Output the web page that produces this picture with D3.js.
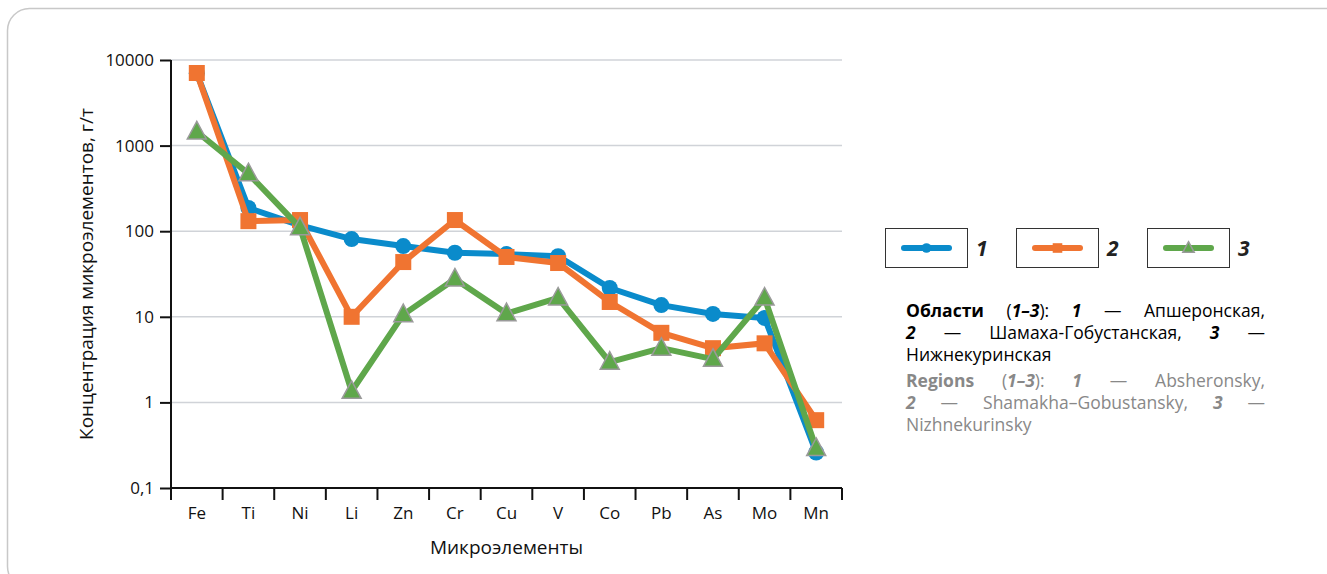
<!DOCTYPE html>
<html>
<head>
<meta charset="utf-8">
<script src="https://cdn.jsdelivr.net/npm/d3@7"></script>
<style>
  body { margin: 0; background: #fff; font-family: "Open Sans", sans-serif; }
  #wrap { position: relative; width: 1327px; height: 574px; overflow: hidden; }
  #note { position: absolute; left: 906px; top: 299px; width: 359px; font-size: 17.5px; line-height: 22px; }
  #note .ln { text-align: justify; text-align-last: justify; white-space: nowrap; }
  #note .ln.last { text-align-last: left; }
  #note .en { color: #888; }
</style>
</head>
<body>
<div id="wrap">
  <div id="chart"></div>
  <div id="note">
    <div class="ln"><b>Области</b> (<b><i>1–3</i></b>): <b><i>1</i></b> — Апшеронская,</div>
    <div class="ln"><b><i>2</i></b> — Шамаха-Гобустанская, <b><i>3</i></b> —</div>
    <div class="ln last">Нижнекуринская</div>
    <div class="en" style="margin-top:4px">
      <div class="ln"><b>Regions</b> (<b><i>1–3</i></b>): <b><i>1</i></b> — Absheronsky,</div>
      <div class="ln"><b><i>2</i></b> — Shamakha–Gobustansky, <b><i>3</i></b> —</div>
      <div class="ln last">Nizhnekurinsky</div>
    </div>
  </div>
</div>
<script>
// data
var elements = ["Fe", "Ti", "Ni", "Li", "Zn", "Cr", "Cu", "V", "Co", "Pb", "As", "Mo", "Mn"];
var series1 = [7000, 187, 117, 81, 67, 56, 54, 51, 21.7, 13.7, 10.8, 9.7, 0.26];
var series2 = [7050, 131, 135, 10, 43.6, 135, 50, 42.5, 14.9, 6.5, 4.3, 4.9, 0.62];
var series3 = [1450, 470, 110, 1.35, 10.6, 27.7, 10.9, 16.6, 2.96, 4.3, 3.2, 16.6, 0.29];
var seriesNames = ["1", "2", "3"];
var yTicks = [0.1, 1, 10, 100, 1000, 10000];

var svgWidth = 1327, svgHeight = 574;
var margin = { top: 60, left: 171, right: 485, bottom: 86 };

var svg = d3.select("#chart").append("svg")
    .attr("width", svgWidth)
    .attr("height", svgHeight)
    .style("font-family", "'Open Sans', sans-serif");

// frame
svg.append("rect")
    .attr("x", 7.5).attr("y", 8.5)
    .attr("width", 1340).attr("height", 580)
    .attr("rx", 22)
    .attr("fill", "none")
    .attr("stroke", "#c8c8c8")
    .attr("stroke-width", 1.5);

var xScale = d3.scaleBand()
    .domain(elements)
    .range([margin.left, svgWidth - margin.right]);

var yScale = d3.scaleLog()
    .domain([0.1, 10000])
    .range([svgHeight - margin.bottom, margin.top]);

var x0 = margin.left, x1 = svgWidth - margin.right, yb = svgHeight - margin.bottom;

// gridlines
svg.append("g").selectAll("line")
    .data(yTicks.slice(1))
    .enter().append("line")
    .attr("x1", x0).attr("x2", x1)
    .attr("y1", d => yScale(d)).attr("y2", d => yScale(d))
    .attr("stroke", "#d0d3d8")
    .attr("stroke-width", 1.5);

// y axis
var yAxis = d3.axisLeft(yScale)
    .tickValues(yTicks)
    .tickFormat(d => String(d).replace(".", ","))
    .tickSize(11)
    .tickPadding(6);

var yg = svg.append("g")
    .attr("transform", "translate(" + x0 + ",0)")
    .call(yAxis);
yg.select(".domain").remove();
yg.selectAll(".tick line").attr("stroke", "#111").attr("stroke-width", 2);
yg.selectAll(".tick text").attr("font-size", 17).attr("fill", "#111").attr("font-family", "'Open Sans', sans-serif");

svg.append("line")
    .attr("x1", x0).attr("x2", x0)
    .attr("y1", margin.top).attr("y2", yb + 6)
    .attr("stroke", "#111").attr("stroke-width", 2);

// x axis
var xAxis = d3.axisBottom(xScale).tickSize(0).tickPadding(19);
var xg = svg.append("g")
    .attr("transform", "translate(0," + yb + ")")
    .call(xAxis);
xg.select(".domain").remove();
xg.selectAll(".tick text").attr("font-size", 17).attr("fill", "#111").attr("font-family", "'Open Sans', sans-serif");

svg.append("line")
    .attr("x1", x0).attr("x2", x1)
    .attr("y1", yb).attr("y2", yb)
    .attr("stroke", "#111").attr("stroke-width", 2);

var bounds = elements.map(d => xScale(d)).concat([x1]);
svg.append("g").selectAll("line")
    .data(bounds)
    .enter().append("line")
    .attr("x1", d => d).attr("x2", d => d)
    .attr("y1", yb).attr("y2", yb + 12)
    .attr("stroke", "#111").attr("stroke-width", 2);

// axis titles
svg.append("text")
    .attr("x", (x0 + x1) / 2)
    .attr("y", 554)
    .attr("text-anchor", "middle")
    .attr("font-size", 19)
    .attr("fill", "#111")
    .text("Микроэлементы");

svg.append("text")
    .attr("transform", "translate(93," + ((margin.top + yb) / 2) + ") rotate(-90)")
    .attr("text-anchor", "middle")
    .attr("font-size", 19)
    .attr("fill", "#111")
    .text("Концентрация микроэлементов, г/т");

// series
var colors = ["#0a8bcb", "#f07431", "#5fa74b"];
var allSeries = [series1, series2, series3];
var line = d3.line()
    .x((d, i) => xScale(elements[i]) + xScale.bandwidth() / 2)
    .y(d => yScale(d));

function drawMarker(g, k, cx, cy, s) {
    if (k === 0) {
        g.append("circle").attr("cx", cx).attr("cy", cy).attr("r", 8 * s).attr("fill", colors[0]);
    } else if (k === 1) {
        g.append("rect").attr("x", cx - 8 * s).attr("y", cy - 8 * s)
            .attr("width", 16 * s).attr("height", 16 * s).attr("fill", colors[1]);
    } else {
        var h = 9.5 * s;
        g.append("path")
            .attr("d", "M" + cx + "," + (cy - h * 1.1) + "L" + (cx + h) + "," + (cy + h * 0.75) + "L" + (cx - h) + "," + (cy + h * 0.75) + "Z")
            .attr("fill", colors[2])
            .attr("stroke", "#9a9a9a")
            .attr("stroke-width", 1.5);
    }
}

allSeries.forEach(function (vals, k) {
    var g = svg.append("g");
    g.append("path")
        .datum(vals)
        .attr("d", line)
        .attr("fill", "none")
        .attr("stroke", colors[k])
        .attr("stroke-width", 6)
        .attr("stroke-linejoin", "round");
    vals.forEach(function (v, i) {
        drawMarker(g, k, xScale(elements[i]) + xScale.bandwidth() / 2, yScale(v), 1);
    });
});

// legend
var lg = svg.append("g");
seriesNames.forEach(function (name, k) {
    var lx = 885 + k * 131, ly = 228;
    lg.append("rect")
        .attr("x", lx + 0.5).attr("y", ly + 0.5)
        .attr("width", 82).attr("height", 39)
        .attr("fill", "none").attr("stroke", "#333").attr("stroke-width", 1);
    lg.append("line")
        .attr("x1", lx + 19).attr("x2", lx + 64)
        .attr("y1", ly + 20).attr("y2", ly + 20)
        .attr("stroke", colors[k]).attr("stroke-width", 6).attr("stroke-linecap", "round");
    drawMarker(lg, k, lx + 41.5, ly + 20, 0.6);
    lg.append("text")
        .attr("x", lx + 91).attr("y", ly + 28)
        .attr("font-size", 21).attr("font-weight", "bold").attr("font-style", "italic")
        .attr("fill", "#222")
        .text(name);
});
</script>
</body>
</html>
